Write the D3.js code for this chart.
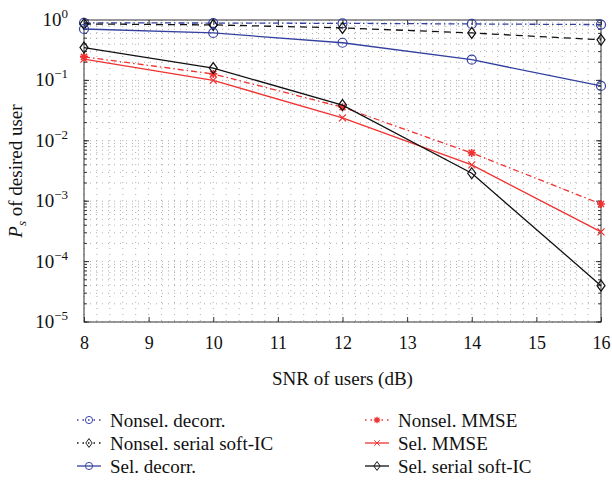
<!DOCTYPE html>
<html>
<head>
<meta charset="utf-8">
<script src="https://cdn.jsdelivr.net/npm/d3@7"></script>
<style>
  body { margin: 0; background: #fff; }
  svg text { font-family: "Liberation Serif", "Times New Roman", Tinos, "DejaVu Serif", "Noto Serif", serif !important; fill: #111; }
</style>
</head>
<body>
<script>
// data
const snr = [8, 10, 12, 14, 16];
const xTicks = [8, 9, 10, 11, 12, 13, 14, 15, 16];
const yDecades = [0, -1, -2, -3, -4, -5];

const nonselDecorr = [0.90, 0.89, 0.88, 0.86, 0.84];
const nonselSoftIC = [0.86, 0.83, 0.74, 0.61, 0.47];
const selDecorr    = [0.71, 0.61, 0.42, 0.22, 0.081];
const nonselMMSE   = [0.245, 0.128, 0.036, 0.0063, 0.00090];
const selMMSE      = [0.225, 0.100, 0.024, 0.0040, 0.00031];
const selSoftIC    = [0.35, 0.16, 0.039, 0.0029, 0.000040];

const names = ["Nonsel. decorr.", "Nonsel. serial soft-IC", "Sel. decorr.",
               "Nonsel. MMSE", "Sel. MMSE", "Sel. serial soft-IC"];

const blue = "#3340a0", red = "#f03232", black = "#111";

const series = [
  {name: names[0], values: nonselDecorr, color: blue,  dash: "6,3,1.5,3", marker: "circle"},
  {name: names[1], values: nonselSoftIC, color: black, dash: "7,5",       marker: "diamond"},
  {name: names[2], values: selDecorr,    color: blue,  dash: null,        marker: "circle"},
  {name: names[3], values: nonselMMSE,   color: red,   dash: "6,3,1.5,3", marker: "star"},
  {name: names[4], values: selMMSE,      color: red,   dash: null,        marker: "cross"},
  {name: names[5], values: selSoftIC,    color: black, dash: null,        marker: "diamond"}
];

let margin = {top: 20, left: 84, right: 11, bottom: 158};
let width = 612 - margin.left - margin.right;
let height = 480 - margin.top - margin.bottom;

const svg = d3.select("body").append("svg")
  .attr("width", 612).attr("height", 480);
const g = svg.append("g").attr("transform", `translate(${margin.left},${margin.top})`);

const x = d3.scaleLinear().domain([8, 16]).range([0, width]);
const y = d3.scaleLog().domain([1e-5, 1]).range([height, 0]);

// grid: major + minor, dotted
const gridX = d3.range(8, 16.001, 0.2);
const gridY = [];
yDecades.slice(1).forEach(function(e) {
  for (let m = 1; m <= 9; m++) gridY.push(m * Math.pow(10, e));
});

g.append("g").selectAll("line").data(gridX).enter().append("line")
  .attr("x1", d => x(d)).attr("x2", d => x(d))
  .attr("y1", 0).attr("y2", height)
  .attr("stroke", "#999").attr("stroke-width", 0.8)
  .attr("stroke-dasharray", "1,5");

g.append("g").selectAll("line").data(gridY).enter().append("line")
  .attr("x1", 0).attr("x2", width)
  .attr("y1", d => y(d)).attr("y2", d => y(d))
  .attr("stroke", "#999").attr("stroke-width", 0.8)
  .attr("stroke-dasharray", "1,5");

// axes box
g.append("rect").attr("width", width).attr("height", height)
  .attr("fill", "none").attr("stroke", "#333").attr("stroke-width", 1);

// x axis ticks (inside, both sides)
const xAxis = d3.axisBottom(x).tickValues(xTicks).tickSize(-5).tickPadding(14)
  .tickFormat(d3.format("d"));
const xa = g.append("g").attr("transform", `translate(0,${height})`).call(xAxis)
  .attr("font-family", null).attr("font-size", null);
xa.select(".domain").remove();
xa.selectAll("line").attr("stroke", "#333");
xa.selectAll("text").style("font-size", "18px").attr("fill", "#111");

const xTop = d3.axisTop(x).tickValues(xTicks).tickSize(-5).tickFormat("");
const xt = g.append("g").call(xTop);
xt.select(".domain").remove();
xt.selectAll("line").attr("stroke", "#333");

// y axis ticks (major + minor, inside both sides)
const yMajor = yDecades.map(e => Math.pow(10, e));
[0, width].forEach(function(px) {
  const dir = px === 0 ? 1 : -1;
  g.append("g").selectAll("line").data(yMajor).enter().append("line")
    .attr("x1", px).attr("x2", px + dir * 5)
    .attr("y1", d => y(d)).attr("y2", d => y(d)).attr("stroke", "#333");
  g.append("g").selectAll("line").data(gridY).enter().append("line")
    .attr("x1", px).attr("x2", px + dir * 3)
    .attr("y1", d => y(d)).attr("y2", d => y(d)).attr("stroke", "#333");
});

// y tick labels as 10^e
const yl = g.append("g").selectAll("text").data(yDecades).enter().append("text")
  .attr("x", -16).attr("y", d => y(Math.pow(10, d)) + 6)
  .attr("text-anchor", "end").style("font-size", "19px");
yl.append("tspan").text("10");
yl.append("tspan").attr("dy", -8).style("font-size", "13px")
  .text(d => d === 0 ? "0" : "\u2212" + (-d));

// axis titles
svg.append("text")
  .attr("x", margin.left + width / 2).attr("y", 385)
  .attr("text-anchor", "middle").style("font-size", "19px")
  .text("SNR of users (dB)");

const yt = svg.append("text")
  .attr("transform", "translate(22,171) rotate(-90)")
  .attr("text-anchor", "middle").style("font-size", "19px");
yt.append("tspan").style("font-style", "italic").text("P");
yt.append("tspan").style("font-style", "italic").style("font-size", "13px")
  .attr("dy", 4).text("s");
yt.append("tspan").attr("dy", -4).text(" of desired user");

// markers
function drawMarker(sel, type, color) {
  if (type === "circle") {
    sel.append("circle").attr("r", 4.5).attr("fill", "none")
      .attr("stroke", color).attr("stroke-width", 1.2);
  } else if (type === "diamond") {
    sel.append("path").attr("d", "M0,-5.5L4,0L0,5.5L-4,0Z").attr("fill", "none")
      .attr("stroke", color).attr("stroke-width", 1.2);
  } else if (type === "star") {
    sel.append("path").attr("d", "M-4,0H4M0,-4V4M-3,-3L3,3M-3,3L3,-3")
      .attr("stroke", color).attr("stroke-width", 1.6);
  } else if (type === "cross") {
    sel.append("path").attr("d", "M-3.5,-3.5L3.5,3.5M-3.5,3.5L3.5,-3.5")
      .attr("stroke", color).attr("stroke-width", 1.2);
  }
}

const line = d3.line().x((d, i) => x(snr[i])).y(d => y(d));

const plot = g.append("g");
series.forEach(function(s) {
  plot.append("path").datum(s.values)
    .attr("d", line).attr("fill", "none")
    .attr("stroke", s.color).attr("stroke-width", 1.3)
    .attr("stroke-dasharray", s.dash);
  plot.selectAll(null).data(s.values).enter().append("g")
    .attr("transform", (d, i) => `translate(${x(snr[i])},${y(d)})`)
    .each(function() { drawMarker(d3.select(this), s.marker, s.color); });
});

// legend: two columns of three
const legend = svg.append("g");
series.forEach(function(s, i) {
  const col = Math.floor(i / 3), row = i % 3;
  const lx = col === 0 ? 77 : 365;
  const ly = 420 + row * 23;
  const item = legend.append("g").attr("transform", `translate(${lx},${ly})`);
  item.append("line").attr("x1", 0).attr("x2", 24).attr("y1", 0).attr("y2", 0)
    .attr("stroke", s.color).attr("stroke-width", 1.3)
    .attr("stroke-dasharray", s.dash ? "1.5,4" : null);
  drawMarker(item.append("g").attr("transform", "translate(12,0) scale(0.8)"), s.marker, s.color);
  item.append("text").attr("x", 33).attr("y", 6.5)
    .style("font-size", "19px").text(s.name);
});
</script>
</body>
</html>
